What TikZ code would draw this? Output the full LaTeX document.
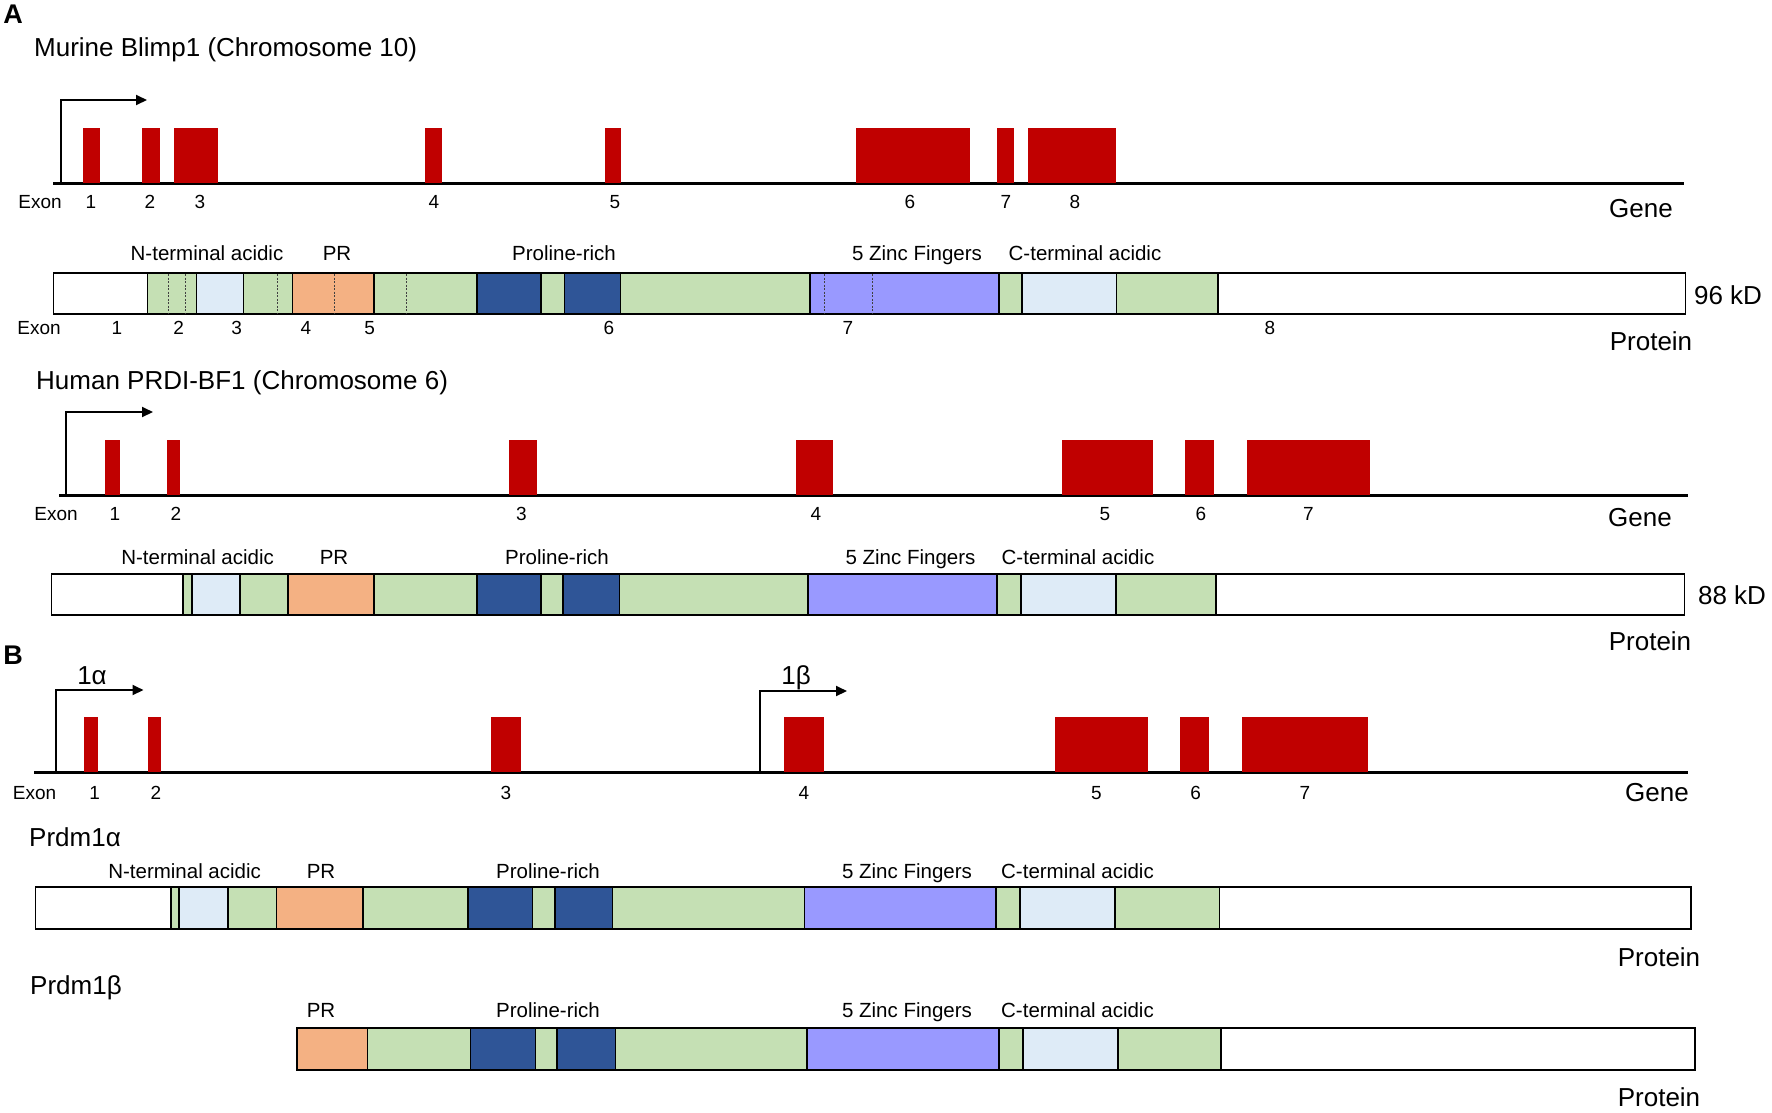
\documentclass[tikz,border=0pt]{standalone}
\usepackage{fontspec}
\setmainfont{Liberation Sans}
\usetikzlibrary{arrows.meta}
\definecolor{exred}{RGB}{192,0,0}
\definecolor{lgreen}{RGB}{197,224,180}
\definecolor{lblue}{RGB}{222,235,247}
\definecolor{lorange}{RGB}{244,177,131}
\definecolor{dblue}{RGB}{47,85,151}
\definecolor{zinc}{RGB}{153,153,255}
\tikzset{
	seg/.style={draw=black,line width=1.4pt},
	big/.style={font=\fontsize{26}{30}\selectfont,inner sep=0pt,anchor=base},
	dom/.style={font=\fontsize{20.5}{24}\selectfont,inner sep=0pt,anchor=base},
	num/.style={font=\fontsize{19}{22}\selectfont,inner sep=0pt,anchor=base},
	panel/.style={font=\fontsize{27}{30}\selectfont\bfseries,inner sep=0pt,anchor=base},
	chrom/.style={line width=3pt},
	prom/.style={line width=2pt,-{Triangle[length=11pt,width=10pt]}}
}

\begin{document}
\begin{tikzpicture}[x=1pt,y=-1pt]
	\useasboundingbox (0,0) rectangle (1772,1112);

	\node[panel] (pA) at (13,23) {A};
	\node[big,anchor=base west] (tMur) at (34,56) {Murine Blimp1 (Chromosome 10)};

	% murine gene
	\draw[chrom] (53,183) -- (1684,183);
	\foreach \a/\b in {83/99.5, 142/160, 174/218, 425/442, 605/621, 856/970, 997/1014, 1028/1116}
		\fill[exred] (\a,128) rectangle (\b,183);
	\draw[prom] (61,183) |- (147,100);
	\node[num] (mgExon) at (40,208) {Exon};
	\foreach \x/\xtext in {91/1, 150/2, 200/3, 434/4, 615/5, 910/6, 1006/7, 1075/8}
		\node[num] (mg\xtext) at (\x,208) {\xtext};
	\node[big] (mgGene) at (1641,217) {Gene};

	% murine protein
	\def\ty{273}
	\def\by{314}
	\foreach \a/\b/\c in {53.6/147.3/white, 147.3/196.4/lgreen, 196.4/243.3/lblue, 243.3/292.4/lgreen, 292.4/374/lorange, 374/476.8/lgreen, 476.8/541/dblue, 541/564.7/lgreen, 564.7/620.5/dblue, 620.5/810/lgreen, 810/999/zinc, 999/1022/lgreen, 1022/1116.5/lblue, 1116.5/1218/lgreen, 1218/1685.5/white}
		\filldraw[seg,fill=\c] (\a,\ty) rectangle (\b,\by);
	\foreach \x in {168.3, 185.3, 277.7, 334, 406, 824.5, 872}
		\draw[black!75,line width=0.7pt,dash pattern=on 2pt off 1.5pt] (\x,\ty+1) -- (\x,\by-1);
	\foreach \x/\name/\dtext in {207/mN/N-terminal acidic, 337/mPR/PR, 564/mPro/Proline-rich, 917/mZn/5 Zinc Fingers, 1085/mC/C-terminal acidic}
		\node[dom] (\name) at (\x,260) {\dtext};
	\node[num] (mpExon) at (39,334) {Exon};
	\foreach \x/\xtext in {117/1, 178.6/2, 236.6/3, 305.8/4, 369.6/5, 609/6, 848/7, 1270/8}
		\node[num] (mp\xtext) at (\x,334) {\xtext};
	\node[big] (mKD) at (1728,304) {96 kD};
	\node[big] (mProt) at (1651,350) {Protein};

	\node[big,anchor=base west] (tHum) at (36,389) {Human PRDI-BF1 (Chromosome 6)};

	% human gene
	\draw[chrom] (59,495) -- (1688,495);
	\foreach \a/\b in {105/120, 167/180, 509/537, 796/833, 1062/1153, 1185/1214, 1247/1370}
		\fill[exred] (\a,440) rectangle (\b,495);
	\draw[prom] (66,495) |- (153,412);
	\node[num] (hgExon) at (56,520) {Exon};
	\foreach \x/\xtext in {115/1, 176/2, 521.5/3, 816/4, 1105/5, 1201/6, 1308.5/7}
		\node[num] (hg\xtext) at (\x,520) {\xtext};
	\node[big] (hgGene) at (1640,526) {Gene};

	% human protein
	\def\ty{574}
	\def\by{615}
	\foreach \a/\b/\c in {51.3/183/white, 183/192/lgreen, 192/240/lblue, 240/288/lgreen, 288/374/lorange, 374/477/lgreen, 477/541/dblue, 541/563/lgreen, 563/619.6/dblue, 619.6/808/lgreen, 808/997/zinc, 997/1021/lgreen, 1021/1116/lblue, 1116/1216/lgreen, 1216/1684.5/white}
		\filldraw[seg,fill=\c] (\a,\ty) rectangle (\b,\by);
	\foreach \x/\name/\dtext in {197.6/hN/N-terminal acidic, 334/hPR/PR, 557/hPro/Proline-rich, 910.5/hZn/5 Zinc Fingers, 1078/hC/C-terminal acidic}
		\node[dom] (\name) at (\x,564) {\dtext};
	\node[big] (hKD) at (1732,604) {88 kD};
	\node[big] (hProt) at (1650,650) {Protein};

	\node[panel] (pB) at (13,664) {B};

	% prdm1 gene, two promoters
	\draw[chrom] (34.4,772) -- (1688,772);
	\foreach \a/\b in {83.8/97.6, 148/160.7, 491/521, 784/823.5, 1055/1148, 1180/1209, 1241.5/1368}
		\fill[exred] (\a,717) rectangle (\b,772);
	\draw[prom] (55.7,772) |- (143.5,690);
	\draw[prom] (760,772) |- (847,691);
	\node[big] (p1a) at (92,684) {1α};
	\node[big] (p1b) at (796,684) {1β};
	\node[num] (bgExon) at (34.5,799) {Exon};
	\foreach \x/\xtext in {94.7/1, 156/2, 506/3, 804/4, 1096.5/5, 1195.7/6, 1305/7}
		\node[num] (bg\xtext) at (\x,799) {\xtext};
	\node[big] (bgGene) at (1657,801) {Gene};

	% prdm1 alpha
	\node[big,anchor=base west] (tAlpha) at (29,846) {Prdm1α};
	\def\ty{887}
	\def\by{929}
	\foreach \a/\b/\c in {35.6/171/white, 171/179/lgreen, 179/228/lblue, 228/276.7/lgreen, 276.7/362.8/lorange, 362.8/467.8/lgreen, 467.8/532.7/dblue, 532.7/555/lgreen, 555/612.5/dblue, 612.5/804.6/lgreen, 804.6/996/zinc, 996/1020/lgreen, 1020/1115/lblue, 1115/1219.6/lgreen, 1219.6/1691/white}
		\filldraw[seg,fill=\c] (\a,\ty) rectangle (\b,\by);
	\foreach \x/\name/\dtext in {184.6/aN/N-terminal acidic, 321/aPR/PR, 548/aPro/Proline-rich, 907/aZn/5 Zinc Fingers, 1077.5/aC/C-terminal acidic}
		\node[dom] (\name) at (\x,878) {\dtext};
	\node[big] (aProt) at (1659,966) {Protein};

	% prdm1 beta
	\node[big,anchor=base west] (tBeta) at (30,994) {Prdm1β};
	\def\ty{1028}
	\def\by{1070}
	\foreach \a/\b/\c in {296.8/367.4/lorange, 367.4/470.7/lgreen, 470.7/535.5/dblue, 535.5/556.8/lgreen, 556.8/615.3/dblue, 615.3/807/lgreen, 807/999/zinc, 999/1023/lgreen, 1023/1118/lblue, 1118/1221/lgreen, 1221/1695/white}
		\filldraw[seg,fill=\c] (\a,\ty) rectangle (\b,\by);
	\foreach \x/\name/\dtext in {321/bPR/PR, 548/bPro/Proline-rich, 907/bZn/5 Zinc Fingers, 1077.5/bC/C-terminal acidic}
		\node[dom] (\name) at (\x,1017) {\dtext};
	\node[big] (bProt) at (1659,1106) {Protein};
\end{tikzpicture}
\end{document}
